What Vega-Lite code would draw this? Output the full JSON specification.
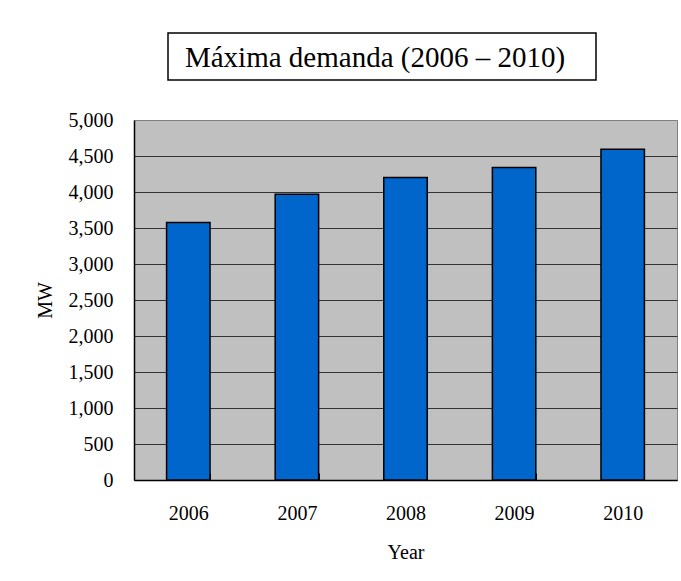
{
  "$schema": "https://vega.github.io/schema/vega-lite/v6.json",
  "background": "white",
  "padding": {"left": 34, "top": 32, "right": 2, "bottom": 10},
  "config": {
    "font": "Liberation Serif",
    "view": {"stroke": null},
    "concat": {"spacing": 0}
  },
  "datasets": {
    "demand": [
      {"year": "2006", "mw": 3575},
      {"year": "2007", "mw": 3970},
      {"year": "2008", "mw": 4200},
      {"year": "2009", "mw": 4340},
      {"year": "2010", "mw": 4595}
    ],
    "heading": [
      {"label": "Máxima demanda (2006 – 2010)"}
    ]
  },
  "vconcat": [
    {
      "hconcat": [
        {
          "width": 33,
          "height": 47,
          "data": {"name": "heading"},
          "mark": {"type": "text", "text": ""},
          "encoding": {},
          "view": {"stroke": null}
        },
        {
          "width": 428,
          "height": 47,
          "data": {"name": "heading"},
          "mark": {"type": "text", "font": "Liberation Serif", "fontSize": 29, "color": "black", "baseline": "middle", "align": "center", "dx": -7, "dy": 1},
          "encoding": {"text": {"field": "label"}},
          "view": {"stroke": "black", "strokeWidth": 1.5, "fill": "white"}
        }
      ],
      "spacing": 0
    },
    {
      "width": 543,
      "height": 360,
      "data": {"name": "demand"},
      "view": {"fill": "#C0C0C0", "stroke": "#808080", "strokeWidth": 1},
      "mark": {"type": "bar", "color": "#0066CC", "stroke": "black", "strokeWidth": 1.5},
      "encoding": {
        "x": {
          "field": "year",
          "type": "nominal",
          "sort": null,
          "scale": {"paddingInner": 0.6, "paddingOuter": 0.3},
          "axis": {
            "title": "Year",
            "labelAngle": 0,
            "labelFontSize": 20,
            "titleFontSize": 20,
            "titleFontWeight": "normal",
            "labelColor": "black",
            "titleColor": "black",
            "domainColor": "black",
            "domainWidth": 1.5,
            "tickColor": "black",
            "tickSize": -7,
            "tickBand": "extent",
            "labelPadding": 30,
            "titlePadding": 19
          }
        },
        "y": {
          "field": "mw",
          "type": "quantitative",
          "scale": {"domain": [0, 5000], "nice": false},
          "axis": {
            "title": "MW",
            "values": [0, 500, 1000, 1500, 2000, 2500, 3000, 3500, 4000, 4500, 5000],
            "format": ",d",
            "labelFontSize": 20,
            "titleFontSize": 20,
            "titleFontWeight": "normal",
            "labelColor": "black",
            "titleColor": "black",
            "domainColor": "black",
            "domainWidth": 1.5,
            "ticks": false,
            "labelPadding": 21,
            "titlePadding": 13,
            "grid": true,
            "gridColor": {"condition": {"test": "datum.value == 5000", "value": "#808080"}, "value": "#333333"},
            "gridWidth": 1,
            "gridOpacity": 1
          }
        }
      }
    }
  ],
  "spacing": 28
}
